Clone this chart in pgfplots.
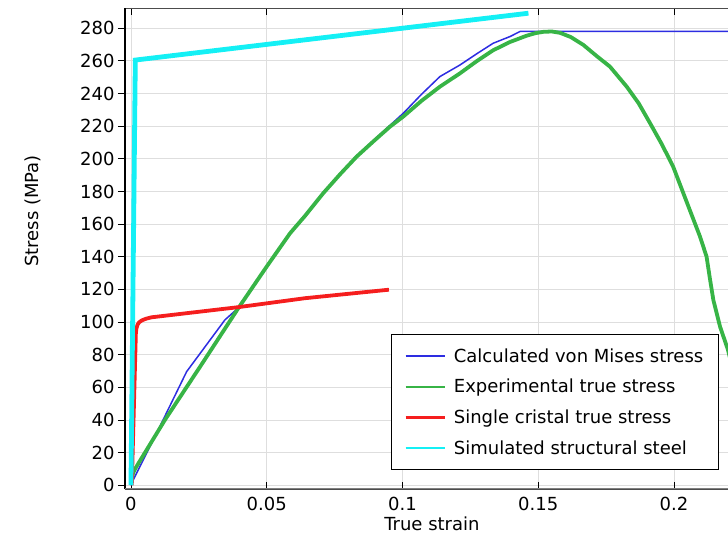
\documentclass[border=0pt]{standalone}
\usepackage{fontspec}
\setmainfont{DejaVu Sans}
\usepackage{pgfplots}
\pgfplotsset{compat=1.18}

\definecolor{vmblue}{RGB}{45,45,225}
\definecolor{expgreen}{RGB}{55,180,70}
\definecolor{crisred}{RGB}{245,30,30}
\definecolor{ssteel}{RGB}{20,240,245}
\definecolor{gridgray}{RGB}{222,222,222}

\pgfplotstableread{
x y
0 0
0.0002 1.2
0.008 27
0.0205 69.6
0.0346 101.3
0.0395 108.6
0.05 133.5
0.0586 154.6
0.0708 179.2
0.0831 201.8
0.0954 220.5
0.1003 227.9
0.107 239.5
0.1138 250.4
0.1212 257.5
0.1275 264.5
0.1334 270.8
0.1396 274.9
0.1433 278
0.25 278
}\vonmises

\pgfplotstableread{
x y
0.0003 4
0.0008 7.5
0.0015 10
0.0125 40
0.026 74
0.0395 108.4
0.05 134
0.0586 154.4
0.0641 165
0.0708 178.9
0.077 190.5
0.0831 201.3
0.0895 211
0.0954 219.7
0.1003 225.9
0.107 235.5
0.1138 244.2
0.1212 252.4
0.1275 260
0.1334 266.5
0.1395 271.5
0.1457 275.4
0.149 277
0.1519 277.8
0.155 278
0.158 277.2
0.162 274.6
0.1666 269.8
0.1715 263
0.1764 256.5
0.1826 244.2
0.187 234
0.1912 221.8
0.1955 209
0.1997 195.2
0.2047 173.5
0.2096 152.3
0.212 140.1
0.2132 127
0.2145 113.5
0.217 97
0.2199 82.9
0.224 55
}\experimental

\pgfplotstableread{
x y
0.0003 0
0.0018 93
0.002 96
0.0024 98.3
0.003 99.8
0.004 101
0.0055 102
0.0076 102.9
0.0395 109.1
0.0641 114.6
0.095 119.8
}\singlecristal

\pgfplotstableread{
x y
0 0
0.0016 260.5
0.1464 289.2
}\structsteel

\begin{document}
\begin{tikzpicture}
\begin{axis}[
 scale only axis, width=603bp, height=481bp,
 xmin=-0.0022, xmax=0.2199, ymin=-2.3, ymax=292.4,
 axis x line*=box, axis y line*=left,
 separate axis lines,
 x axis line style={draw=black!70, line width=0.8bp},
 y axis line style={draw=black, line width=1.2bp},
 xtick={0,0.05,0.1,0.15,0.2}, xticklabels={0,0.05,0.1,0.15,0.2},
 ytick={0,20,...,280},
 xtick align=inside, ytick align=outside,
 major tick length=7bp,
 every tick/.style={black, line width=0.8bp},
 grid=major, major grid style={gridgray, line width=0.8bp},
 tick label style={font=\fontsize{18bp}{21bp}\selectfont},
 xticklabel style={yshift=-5bp},
 /pgf/number format/assume math mode=true,
 label style={font=\fontsize{18bp}{21bp}\selectfont},
 xlabel={True strain}, ylabel={Stress (MPa)},
 xlabel style={at={(axis description cs:0.509,-0.086)}, anchor=base},
 ylabel style={at={(axis description cs:-0.1526,0.578)}, anchor=center},
 legend cell align=left,
 legend image code/.code={\draw[#1, line width=2.3bp] (0bp,0bp) -- (39bp,0bp);},
 legend style={at={(axis description cs:0.4411,0.3222)}, anchor=north west,
   font=\fontsize{18bp}{21bp}\selectfont, draw=black, line width=1.2bp,
   fill=white, inner xsep=13bp, inner ysep=12bp, row sep=11.5bp, column sep=6bp},
]
\draw[black!50, line width=2.5bp] (rel axis cs:0,0) -- (rel axis cs:1,0);
\addplot[draw=vmblue, line width=1.5bp] table[x=x,y=y] {\vonmises};
\addlegendentry{Calculated von Mises stress}
\addplot[draw=expgreen, line width=3.8bp, line join=round] table[x=x,y=y] {\experimental};
\addlegendentry{Experimental true stress}
\addplot[draw=crisred, line width=3.8bp, line join=round] table[x=x,y=y] {\singlecristal};
\addlegendentry{Single cristal true stress}
\addplot[draw=ssteel, line width=4.8bp] table[x=x,y=y] {\structsteel};
\addlegendentry{Simulated structural steel}
\end{axis}
\pgfresetboundingbox
\path[use as bounding box] (current axis.south west) ++(-125bp,-46bp) rectangle ++(728bp,535bp);
\end{tikzpicture}
\end{document}
